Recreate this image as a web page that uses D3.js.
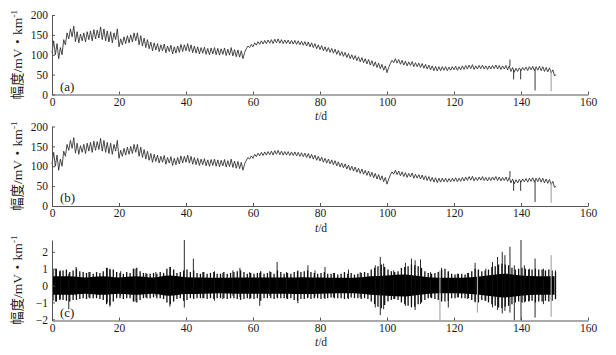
<!DOCTYPE html>
<html>
<head>
<meta charset="utf-8">
<script src="https://cdn.jsdelivr.net/npm/d3@7"></script>
<style>
  body { margin: 0; background: #fff; }
  svg { display: block; }
</style>
</head>
<body>
<div id="frame"></div>
<script>
// daily trough / peak of the amplitude (t = day, peak sits half a day later)
const dayLow = [105, 100, 90, 100, 125, 140, 145, 133, 130, 135,
  132, 138, 135, 140, 142, 138, 135, 132, 130, 138,
  120, 125, 128, 130, 132, 135, 125, 122, 118, 115,
  110, 112, 108, 110, 105, 108, 102, 104, 106, 108,
  110, 108, 105, 104, 102, 104, 101, 100, 102, 100,
  99, 101, 98, 99, 97, 95, 94, 90, 115, 118,
  120, 124, 126, 127, 128, 129, 128, 130, 129, 128,
  128, 127, 127, 126, 125, 124, 122, 120, 118, 115,
  113, 110, 108, 106, 104, 101, 98, 96, 93, 90,
  88, 85, 82, 80, 77, 74, 71, 68, 65, 61,
  55, 78, 80, 79, 76, 74, 72, 73, 70, 70,
  68, 66, 64, 62, 60, 59, 60, 61, 60, 61,
  62, 61, 62, 63, 64, 65, 63, 64, 65, 64,
  63, 64, 65, 64, 63, 64, 62, 58, 56, 58,
  60, 61, 60, 62, 60, 61, 60, 58, 57, 54,
  47];
const dayHigh = [135, 128, 118, 138, 155, 165, 172, 158, 152, 155,
  158, 160, 163, 162, 170, 165, 160, 158, 155, 165,
  140, 145, 148, 150, 155, 155, 148, 142, 138, 132,
  130, 128, 125, 127, 122, 124, 120, 122, 126, 125,
  128, 125, 122, 120, 118, 119, 116, 117, 118, 116,
  115, 117, 114, 118, 113, 112, 110, 106, 122, 126,
  130, 133, 135, 136, 137, 138, 139, 140, 138, 137,
  137, 136, 136, 135, 134, 133, 132, 130, 128, 125,
  123, 120, 118, 116, 114, 111, 108, 106, 103, 100,
  98, 95, 93, 90, 88, 85, 82, 79, 76, 72,
  68, 86, 90, 88, 86, 84, 82, 83, 80, 79,
  78, 76, 74, 72, 71, 70, 70, 70, 69, 70,
  71, 70, 72, 73, 74, 75, 72, 73, 74, 72,
  72, 73, 74, 73, 72, 73, 72, 68, 66, 67,
  68, 69, 70, 71, 70, 71, 70, 68, 67, 62,
  50];
// single-sample spikes in (a) and (b): [t, base, tip, grey?]
const ampSpikes = [[136.7, 72, 88, 0], [137.8, 62, 38, 0], [139.9, 62, 38, 0],
  [144.2, 64, 10, 0], [149.0, 60, 8, 1]];

// residual (c): solid core half-width, one value every 5 days
const coreT = [0, 5, 10, 15, 20, 25, 30, 35, 40, 45, 50, 55, 60, 65, 70, 75,
  80, 85, 90, 95, 100, 105, 110, 115, 120, 125, 130, 135, 140, 145, 150];
const coreW = [0.55, 0.55, 0.48, 0.55, 0.48, 0.55, 0.48, 0.6, 0.5, 0.48, 0.46,
  0.48, 0.48, 0.48, 0.48, 0.5, 0.48, 0.46, 0.46, 0.55, 0.6, 0.65, 0.55, 0.46,
  0.46, 0.5, 0.6, 0.7, 0.6, 0.55, 0.55];
// daily reach of the dense fringe above / below the core
const resUpper = [0.95, 1.0, 0.85, 0.9, 0.95, 0.8, 0.9, 1.0, 0.85, 0.8,
  0.75, 0.8, 0.7, 0.8, 0.75, 0.85, 1.05, 1.0, 0.95, 0.8,
  0.75, 0.7, 0.8, 0.75, 1.0, 1.05, 0.85, 0.75, 0.7, 0.7,
  0.75, 0.7, 0.8, 0.75, 1.0, 1.1, 0.95, 0.75, 0.8, 0.9,
  0.95, 0.8, 0.9, 0.75, 0.7, 0.8, 0.7, 0.75, 0.8, 0.7,
  0.7, 0.8, 0.7, 0.75, 0.8, 0.85, 0.9, 0.8, 0.7, 0.75,
  0.7, 0.75, 0.85, 0.7, 0.75, 0.8, 0.7, 0.9, 0.8, 0.7,
  0.75, 0.7, 0.8, 0.85, 0.8, 0.85, 0.9, 0.8, 0.75, 0.7,
  0.75, 0.8, 0.7, 0.7, 0.75, 0.65, 0.7, 0.8, 0.7, 0.75,
  0.65, 0.7, 0.75, 0.8, 0.75, 0.95, 1.05, 1.15, 1.25, 1.1,
  0.95, 0.85, 0.8, 0.85, 1.05, 1.1, 1.15, 1.25, 1.2, 1.15,
  1.05, 0.85, 0.75, 0.7, 0.75, 0.8, 0.95, 1.0, 0.85, 0.7,
  0.65, 0.7, 0.7, 0.65, 0.75, 0.85, 1.0, 0.95, 0.85, 0.9,
  0.95, 1.1, 1.15, 1.25, 1.3, 1.25, 1.2, 1.05, 0.95, 1.0,
  1.05, 1.0, 0.95, 0.95, 1.0, 0.95, 0.95, 0.9, 0.95, 0.9,
  0.8];
const resLower = [-0.9, -0.95, -0.85, -0.85, -0.9, -0.95, -0.85, -0.85, -0.8, -0.75,
  -0.8, -0.75, -0.75, -0.75, -0.8, -0.85, -1.1, -1.15, -0.95, -0.75,
  -0.75, -0.8, -0.75, -0.75, -0.95, -1.0, -0.85, -0.75, -0.75, -0.75,
  -0.7, -0.75, -0.75, -0.8, -1.0, -1.1, -0.95, -0.8, -0.75, -0.9,
  -0.85, -0.75, -0.8, -0.75, -0.75, -0.75, -0.8, -0.75, -0.8, -0.75,
  -0.75, -0.75, -0.8, -0.75, -0.75, -0.8, -0.85, -0.8, -0.75, -0.75,
  -0.8, -0.75, -0.9, -0.75, -0.75, -0.75, -0.8, -0.75, -0.75, -0.75,
  -0.8, -0.75, -0.85, -0.9, -0.8, -0.8, -0.75, -0.8, -0.75, -0.75,
  -0.8, -0.75, -0.75, -0.7, -0.75, -0.75, -0.75, -0.8, -0.75, -0.7,
  -0.75, -0.75, -0.8, -0.75, -0.8, -0.95, -1.1, -1.25, -1.35, -1.15,
  -0.95, -0.85, -0.8, -0.85, -1.0, -1.1, -1.2, -1.25, -1.25, -1.1,
  -1.0, -0.85, -0.75, -0.75, -0.8, -0.85, -0.95, -0.95, -0.9, -0.75,
  -0.75, -0.7, -0.75, -0.75, -0.75, -0.85, -0.95, -1.0, -0.85, -0.9,
  -1.0, -1.1, -1.2, -1.3, -1.35, -1.25, -1.2, -1.1, -1.0, -0.95,
  -1.0, -0.95, -0.95, -0.9, -1.0, -0.95, -0.95, -0.9, -0.95, -0.9,
  -0.8];
// isolated excursions in (c): [t, top, bottom, grey?]
const resSpikes = [[1.0, 1.0, -0.95, 0], [2.5, 0.9, -0.8, 0], [5.0, 0.7, -1.4, 0],
  [7.2, 1.1, -0.6, 0], [11, 0.8, -0.7, 0], [16.5, 1.05, -1.0, 0], [17.3, 0.9, -1.25, 0],
  [20.5, 0.85, -0.6, 0], [24.8, 1.0, -0.95, 0], [28, 0.75, -0.7, 0], [31, 0.8, -0.6, 0],
  [35.2, 1.1, -1.25, 0], [36.3, 0.9, -0.9, 0], [39.5, 2.7, -1.3, 0], [42.2, 1.6, -0.7, 0],
  [45, 0.8, -0.75, 0], [48.5, 0.85, -0.9, 0], [51, 0.75, -0.8, 0], [54, 0.9, -0.6, 0],
  [56.1, 1.05, -0.7, 0], [59, 0.8, -0.8, 0], [62, 0.75, -1.2, 0], [65, 0.85, -0.6, 0],
  [67.2, 1.4, -0.7, 0], [70, 0.8, -0.75, 0], [73.4, 0.9, -1.05, 0], [76.4, 1.2, -0.7, 0],
  [78.5, 0.9, -0.65, 0], [81.5, 1.1, -0.8, 0], [84, 0.75, -0.7, 0], [88.5, 0.95, -0.8, 0],
  [92, 0.8, -0.7, 0], [96.5, 1.2, -1.3, 0], [98, 1.7, -1.75, 0], [99, 1.3, -1.4, 0],
  [102, 0.9, -0.8, 0], [105.5, 1.35, -1.2, 0], [107.3, 1.6, -1.3, 0], [108.4, 1.5, -1.45, 0],
  [110, 1.55, -1.1, 0], [113, 0.8, -0.7, 0], [115.8, 0.9, -2.05, 1], [116.3, 1.05, -0.8, 0],
  [118.3, 0.8, -1.3, 0], [121, 0.7, -0.7, 0], [124, 0.75, -0.8, 0], [126.3, 1.35, -1.0, 0],
  [127, 0.9, -1.6, 1], [129.5, 1.0, -0.9, 0], [131.5, 1.4, -1.3, 0], [133, 1.7, -1.45, 0],
  [134.4, 2.0, -1.65, 0], [135.2, 1.8, -1.5, 0], [136.7, 2.3, -1.6, 0], [138, 1.2, -2.05, 0],
  [140, 2.7, -2.05, 0], [141, 1.2, -1.0, 0], [142.5, 1.0, -0.9, 0], [144.2, 1.6, -1.9, 0],
  [146.7, 1.0, -1.1, 0], [149, 1.8, -1.85, 1], [150.3, 0.9, -0.8, 0]];

const xTicks = [0, 20, 40, 60, 80, 100, 120, 140, 160];
const ampTicks = [0, 50, 100, 150, 200];
const resTicks = [-2, -1, 0, 1, 2];

const width = 616, height = 355;
const serif = "'Liberation Serif', 'Times New Roman', serif";
const cjk = "'Noto Sans CJK SC', sans-serif";
const axisColor = "#555";
const textColor = "#1a1a1a";

const svg = d3.select("#frame").append("svg")
  .attr("width", width)
  .attr("height", height);

const x = d3.scaleLinear().domain([0, 160]).range([52, 588]);

// panel layout
const panels = [
  { key: "a", domain: [0, 200], range: [94.5, 15], ticks: ampTicks },
  { key: "b", domain: [0, 200], range: [206, 126.5], ticks: ampTicks },
  { key: "c", domain: [-2.07, 2.7], range: [320.5, 240], ticks: resTicks },
];

// sawtooth points for (a)/(b)
const ampPoints = [];
dayLow.forEach((v, i) => {
  ampPoints.push([i, v]);
  ampPoints.push([i + 0.5, dayHigh[i]]);
});

panels.forEach((p) => {
  const y = d3.scaleLinear().domain(p.domain).range(p.range);
  const g = svg.append("g");

  if (p.key === "c") {
    // fringe: one stroke per day
    g.selectAll("line.fr")
      .data(resUpper)
      .join("line")
      .attr("x1", (d, i) => x(i + 0.3))
      .attr("x2", (d, i) => x(i + 0.3))
      .attr("y1", (d) => y(d))
      .attr("y2", (d, i) => y(resLower[i]))
      .attr("stroke", "#111")
      .attr("stroke-width", 1.3);
    // solid core
    const core = d3.area()
      .curve(d3.curveMonotoneX)
      .x((d, i) => x(coreT[i]))
      .y0((d) => y(-d))
      .y1((d) => y(d));
    g.append("path")
      .attr("d", core(coreW))
      .attr("fill", "#000");
    g.selectAll("line.spk")
      .data(resSpikes)
      .join("line")
      .attr("x1", (d) => x(d[0]))
      .attr("x2", (d) => x(d[0]))
      .attr("y1", (d) => y(d[1]))
      .attr("y2", (d) => y(d[2]))
      .attr("stroke", (d) => (d[3] ? "#aaa" : "#111"))
      .attr("stroke-width", (d) => (d[3] ? 1.2 : 0.9));
  } else {
    const line = d3.line()
      .x((d) => x(d[0]))
      .y((d) => y(d[1]));
    g.append("path")
      .attr("d", line(ampPoints))
      .attr("fill", "none")
      .attr("stroke", "#2b2b2b")
      .attr("stroke-width", 0.85);
    g.selectAll("line.spk")
      .data(ampSpikes)
      .join("line")
      .attr("x1", (d) => x(d[0]))
      .attr("x2", (d) => x(d[0]))
      .attr("y1", (d) => y(d[1]))
      .attr("y2", (d) => y(d[2]))
      .attr("stroke", (d) => (d[3] ? "#aaa" : "#222"))
      .attr("stroke-width", (d) => (d[3] ? 1.2 : 0.9));
  }

  // axes
  const xAxis = d3.axisBottom(x).tickValues(xTicks).tickSize(-3).tickSizeOuter(0).tickPadding(3);
  const yAxis = d3.axisLeft(y).tickValues(p.ticks).tickSize(-3).tickSizeOuter(0).tickPadding(4)
    .tickFormat(d3.format("d"));

  [g.append("g").attr("transform", `translate(0,${p.range[0]})`).call(xAxis),
   g.append("g").attr("transform", `translate(${x(0)},0)`).call(yAxis)]
    .forEach((a) => {
      a.selectAll("path, line").attr("stroke", axisColor).attr("stroke-width", 1);
      a.selectAll("text")
        .attr("font-family", serif)
        .attr("font-size", 11.5)
        .attr("fill", textColor);
    });

  // x label t/d
  const xl = g.append("text")
    .attr("x", 321)
    .attr("y", p.range[0] + 25.5)
    .attr("text-anchor", "middle")
    .attr("font-family", serif)
    .attr("font-size", 11.5)
    .attr("fill", textColor);
  xl.append("tspan").attr("font-style", "italic").text("t");
  xl.append("tspan").text("/d");

  // panel tag
  g.append("text")
    .attr("x", 60)
    .attr("y", p.range[0] - 4)
    .attr("font-family", serif)
    .attr("font-size", 13)
    .attr("fill", textColor)
    .text(`(${p.key})`);

  // y label
  const cy = (p.range[0] + p.range[1]) / 2;
  const yl = g.append("text")
    .attr("transform", `translate(21.5,${cy}) rotate(-90)`)
    .attr("text-anchor", "middle")
    .attr("font-size", 13.5)
    .attr("fill", textColor);
  yl.append("tspan").attr("font-family", cjk).text("幅度");
  yl.append("tspan").attr("font-family", serif).text("/mV");
  yl.append("tspan").attr("font-family", cjk).text("・");
  yl.append("tspan").attr("font-family", serif).text("km");
  yl.append("tspan").attr("font-family", serif).attr("font-size", 9)
    .attr("dy", -5).text("-1");
});
</script>
</body>
</html>
